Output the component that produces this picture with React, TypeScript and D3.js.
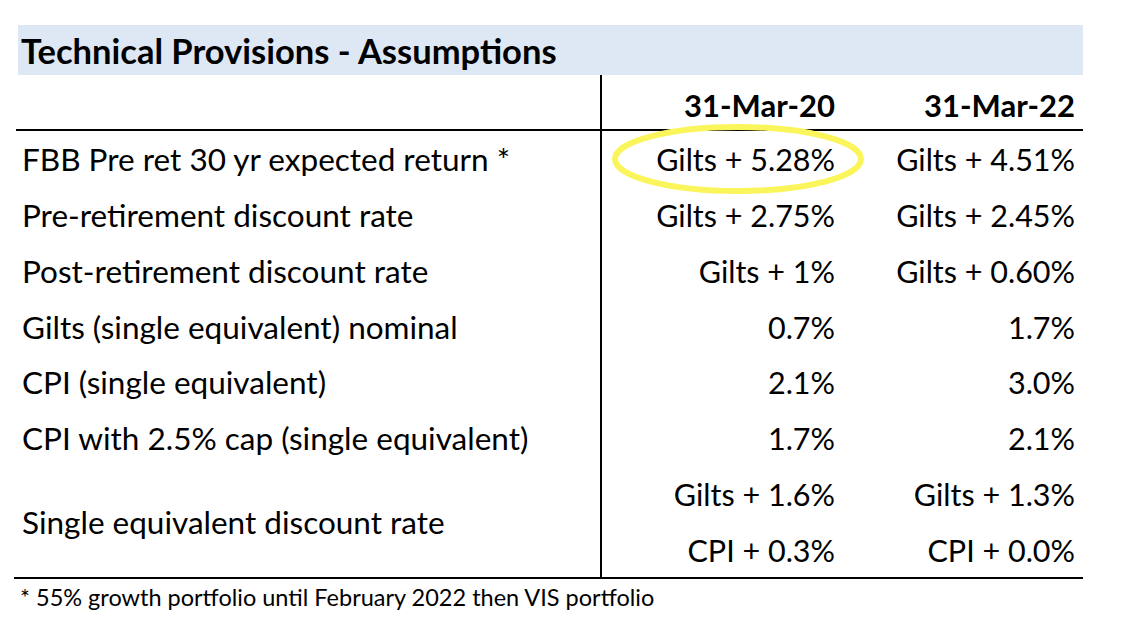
import * as React from 'react'
import * as d3 from 'd3'

const title = 'Technical Provisions - Assumptions'
const columns = ['31-Mar-20', '31-Mar-22']
const rowLabels = [
  'FBB Pre ret 30 yr expected return *',
  'Pre-retirement discount rate',
  'Post-retirement discount rate',
  'Gilts (single equivalent) nominal',
  'CPI (single equivalent)',
  'CPI with 2.5% cap (single equivalent)',
  'Single equivalent discount rate',
]
const values2020 = [
  ['Gilts + 5.28%'],
  ['Gilts + 2.75%'],
  ['Gilts + 1%'],
  ['0.7%'],
  ['2.1%'],
  ['1.7%'],
  ['Gilts + 1.6%', 'CPI + 0.3%'],
]
const values2022 = [
  ['Gilts + 4.51%'],
  ['Gilts + 2.45%'],
  ['Gilts + 0.60%'],
  ['1.7%'],
  ['3.0%'],
  ['2.1%'],
  ['Gilts + 1.3%', 'CPI + 0.0%'],
]
const footnote = '* 55% growth portfolio until February 2022 then VIS portfolio'
const highlighted = { row: 0, col: 0 }

const W = 1126
const H = 636
const font = 'Lato, "Open Sans", sans-serif'

export default function App() {
  // one text line per slot; rows with two values take two slots
  const slots: { row: number; sub: number }[] = []
  rowLabels.forEach((_, i) => {
    const n = Math.max(values2020[i].length, values2022[i].length)
    for (let s = 0; s < n; s++) slots.push({ row: i, sub: s })
  })
  const y = d3.scaleLinear().domain([0, slots.length - 1]).range([159, 550])
  const colX = d3.scaleOrdinal<string, number>().domain(columns).range([835, 1075])
  const colValues = [values2020, values2022]

  const rowCenter = (i: number) => {
    const idx = slots.map((s, k) => (s.row === i ? k : -1)).filter((k) => k >= 0)
    return d3.mean(idx.map((k) => y(k))) as number
  }

  const hl = slots.findIndex((s) => s.row === highlighted.row)

  return (
    <svg width={W} height={H} style={{ position: 'absolute', left: 0, top: 0, background: '#fff' }}>
      <rect x={18} y={25} width={1065} height={50} fill="#dde8f4" />
      <text x={21} y={50} dominantBaseline="central" fontFamily={font} fontWeight={700} fontSize={34.5} fill="#000">
        {title}
      </text>
      <line x1={601} x2={601} y1={75} y2={578} stroke="#000" strokeWidth={2} />
      <line x1={16} x2={1083} y1={130} y2={130} stroke="#000" strokeWidth={2} />
      <line x1={14} x2={1083} y1={578} y2={578} stroke="#000" strokeWidth={2} />
      {columns.map((c) => (
        <text key={c} x={colX(c)} y={105} textAnchor="end" dominantBaseline="central" fontFamily={font} fontWeight={700} fontSize={31}>
          {c}
        </text>
      ))}
      {rowLabels.map((l, i) => (
        <text key={l} x={22} y={rowCenter(i)} dominantBaseline="central" fontFamily={font} fontSize={31.5}>
          {l}
        </text>
      ))}
      {columns.map((c, ci) =>
        slots.map((s, k) => {
          const v = colValues[ci][s.row][s.sub]
          if (!v) return null
          return (
            <text key={c + k} x={colX(c)} y={y(k)} textAnchor="end" dominantBaseline="central" fontFamily={font} fontSize={30.5}>
              {v}
            </text>
          )
        })
      )}
      <ellipse
        cx={colX(columns[highlighted.col]) - 97}
        cy={y(hl)}
        rx={123}
        ry={32}
        fill="none"
        stroke="#fbf55c"
        strokeWidth={6}
      />
      <text x={20} y={597} dominantBaseline="central" fontFamily={font} fontSize={23.5}>
        {footnote}
      </text>
    </svg>
  )
}
